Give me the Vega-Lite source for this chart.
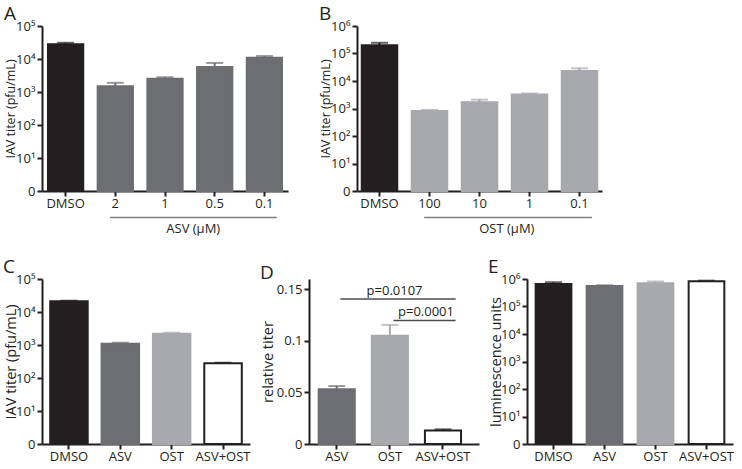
{
  "$schema": "https://vega.github.io/schema/vega-lite/v6.json",
  "padding": {"left": 3, "top": 5, "right": 0, "bottom": 0},
  "background": "white",
  "config": {
    "view": {"stroke": null},
    "font": "Open Sans",
    "axis": {"domainColor": "#231f20", "domainWidth": 2, "tickColor": "#231f20", "tickWidth": 2, "tickSize": 5, "labelColor": "#231f20", "labelFont": "Open Sans", "labelFontSize": 13, "titleFont": "Open Sans", "titleFontSize": 12.5, "titleFontWeight": "normal", "titleColor": "#231f20", "grid": false, "labelPadding": 2},
    "axisX": {"labelAngle": 0, "title": null, "labelPadding": 1},
    "title": {"anchor": "start", "frame": "bounds", "font": "Open Sans", "fontSize": 19, "fontWeight": "normal", "color": "#231f20", "offset": -4}
  },
  "datasets": {
    "A": [
      {"cond": "DMSO", "grp": "ctl", "val": 28000, "err": 31000},
      {"cond": "2", "grp": "asv", "val": 1500, "err": 1900},
      {"cond": "1", "grp": "asv", "val": 2500, "err": 2800},
      {"cond": "0.5", "grp": "asv", "val": 5700, "err": 7600},
      {"cond": "0.1", "grp": "asv", "val": 11000, "err": 12300}
    ],
    "B": [
      {"cond": "DMSO", "grp": "ctl", "val": 200000, "err": 245000},
      {"cond": "100", "grp": "ost", "val": 810, "err": 890},
      {"cond": "10", "grp": "ost", "val": 1700, "err": 2100},
      {"cond": "1", "grp": "ost", "val": 3200, "err": 3500},
      {"cond": "0.1", "grp": "ost", "val": 23000, "err": 29000}
    ],
    "C": [
      {"cond": "DMSO", "grp": "ctl", "val": 21000, "err": 22000},
      {"cond": "ASV", "grp": "asv", "val": 1100, "err": 1170},
      {"cond": "OST", "grp": "ost", "val": 2200, "err": 2350},
      {"cond": "ASV+OST", "grp": "combo", "val": 280, "err": 290}
    ],
    "D": [
      {"cond": "ASV", "grp": "asv", "val": 0.053, "err": 0.0562},
      {"cond": "OST", "grp": "ost", "val": 0.105, "err": 0.1155},
      {"cond": "ASV+OST", "grp": "combo", "val": 0.0132, "err": 0.0142}
    ],
    "Dsig": [
      {"from": "ASV", "to": "ASV+OST", "p": 0.1406, "label": "p=0.0107"},
      {"from": "OST", "to": "ASV+OST", "p": 0.1198, "label": "p=0.0001"}
    ],
    "E": [
      {"cond": "DMSO", "grp": "ctl", "val": 660000, "err": 760000},
      {"cond": "ASV", "grp": "asv", "val": 560000, "err": 590000},
      {"cond": "OST", "grp": "ost", "val": 700000, "err": 810000},
      {"cond": "ASV+OST", "grp": "combo", "val": 820000, "err": 870000}
    ]
  },
  "vconcat": [
    {
      "hconcat": [
        {
          "title": {"text": "A"},
          "width": 246, "height": 165,
          "resolve": {"scale": {"y": "independent"}},
          "layer": [
            {
              "data": {"name": "A"},
              "encoding": {"x": {"field": "cond", "type": "nominal", "scale": {"domain": ["DMSO", "2", "1", "0.5", "0.1"], "paddingInner": 0.29, "paddingOuter": 0.12}, "axis": {"title": null}}},
              "layer": [
                {"mark": {"type": "bar", "strokeWidth": 2},
                 "encoding": {
                   "y": {"field": "val", "type": "quantitative", "scale": {"type": "log", "domain": [1, 100000]}, "axis": {"title": "IAV titer (pfu/mL)", "values": [1, 10, 100, 1000, 10000, 100000], "labelExpr": "datum.value == 1 ? '0' : '10' + ['⁰','¹','²','³','⁴','⁵','⁶'][round(log(datum.value) / LN10)]", "minExtent": 24, "maxExtent": 24, "titlePadding": 1}},
                   "y2": {"datum": 1},
                   "fill": {"field": "grp", "type": "nominal", "scale": {"domain": ["ctl", "asv", "ost", "combo"], "range": ["#231f20", "#6d6e71", "#a7a9ac", "#ffffff"]}, "legend": null},
                   "stroke": {"field": "grp", "type": "nominal", "scale": {"domain": ["ctl", "asv", "ost", "combo"], "range": ["#231f20", "#6d6e71", "#a7a9ac", "#231f20"]}, "legend": null}
                 }},
                {"mark": {"type": "rule", "strokeWidth": 2},
                 "encoding": {"y": {"field": "val", "type": "quantitative"}, "y2": {"field": "err"},
                   "color": {"field": "grp", "type": "nominal", "scale": {"domain": ["ctl", "asv", "ost", "combo"], "range": ["#231f20", "#6d6e71", "#a7a9ac", "#231f20"]}, "legend": null}}},
                {"mark": {"type": "tick", "thickness": 2, "size": 17},
                 "encoding": {"y": {"field": "err", "type": "quantitative"},
                   "color": {"field": "grp", "type": "nominal", "scale": {"domain": ["ctl", "asv", "ost", "combo"], "range": ["#231f20", "#6d6e71", "#a7a9ac", "#231f20"]}, "legend": null}}}
              ]
            },
            {
              "data": {"values": [{"from": "2", "to": "0.1", "mid": "1", "label": "ASV (μM)"}]},
              "layer": [
                {"mark": {"type": "rule", "strokeWidth": 1.5, "color": "#7f7f7f"},
                 "encoding": {
                   "x": {"field": "from", "type": "nominal", "bandPosition": 0.35, "scale": {"domain": ["DMSO", "2", "1", "0.5", "0.1"]}, "axis": {"title": null}},
                   "x2": {"field": "to", "bandPosition": 0.85},
                   "y": {"datum": -16, "type": "quantitative", "scale": {"domain": [0, 100]}, "axis": null}
                 }},
                {"mark": {"type": "text", "fontSize": 13, "color": "#231f20", "baseline": "middle"},
                 "encoding": {
                   "x": {"field": "mid", "type": "nominal", "bandPosition": 1.3, "scale": {"domain": ["DMSO", "2", "1", "0.5", "0.1"]}, "axis": {"title": null}},
                   "y": {"datum": -23, "type": "quantitative"},
                   "text": {"field": "label"}
                 }}
              ]
            }
          ]
        },
        {
          "title": {"text": "B"},
          "width": 245, "height": 165,
          "resolve": {"scale": {"y": "independent"}},
          "layer": [
            {
              "data": {"name": "B"},
              "encoding": {"x": {"field": "cond", "type": "nominal", "scale": {"domain": ["DMSO", "100", "10", "1", "0.1"], "paddingInner": 0.29, "paddingOuter": 0.095}, "axis": {"title": null}}},
              "layer": [
                {"mark": {"type": "bar", "strokeWidth": 2},
                 "encoding": {
                   "y": {"field": "val", "type": "quantitative", "scale": {"type": "log", "domain": [1, 1000000]}, "axis": {"title": "IAV titer (pfu/mL)", "values": [1, 10, 100, 1000, 10000, 100000, 1000000], "labelExpr": "datum.value == 1 ? '0' : '10' + ['⁰','¹','²','³','⁴','⁵','⁶'][round(log(datum.value) / LN10)]", "minExtent": 24, "maxExtent": 24, "titlePadding": 1}},
                   "y2": {"datum": 1},
                   "fill": {"field": "grp", "type": "nominal", "scale": {"domain": ["ctl", "asv", "ost", "combo"], "range": ["#231f20", "#6d6e71", "#a7a9ac", "#ffffff"]}, "legend": null},
                   "stroke": {"field": "grp", "type": "nominal", "scale": {"domain": ["ctl", "asv", "ost", "combo"], "range": ["#231f20", "#6d6e71", "#a7a9ac", "#231f20"]}, "legend": null}
                 }},
                {"mark": {"type": "rule", "strokeWidth": 2},
                 "encoding": {"y": {"field": "val", "type": "quantitative"}, "y2": {"field": "err"},
                   "color": {"field": "grp", "type": "nominal", "scale": {"domain": ["ctl", "asv", "ost", "combo"], "range": ["#231f20", "#6d6e71", "#a7a9ac", "#231f20"]}, "legend": null}}},
                {"mark": {"type": "tick", "thickness": 2, "size": 17},
                 "encoding": {"y": {"field": "err", "type": "quantitative"},
                   "color": {"field": "grp", "type": "nominal", "scale": {"domain": ["ctl", "asv", "ost", "combo"], "range": ["#231f20", "#6d6e71", "#a7a9ac", "#231f20"]}, "legend": null}}}
              ]
            },
            {
              "data": {"values": [{"from": "100", "to": "0.1", "mid": "10", "label": "OST (μM)"}]},
              "layer": [
                {"mark": {"type": "rule", "strokeWidth": 1.5, "color": "#7f7f7f"},
                 "encoding": {
                   "x": {"field": "from", "type": "nominal", "bandPosition": 0.35, "scale": {"domain": ["DMSO", "100", "10", "1", "0.1"]}, "axis": {"title": null}},
                   "x2": {"field": "to", "bandPosition": 0.85},
                   "y": {"datum": -16, "type": "quantitative", "scale": {"domain": [0, 100]}, "axis": null}
                 }},
                {"mark": {"type": "text", "fontSize": 13, "color": "#231f20", "baseline": "middle"},
                 "encoding": {
                   "x": {"field": "mid", "type": "nominal", "bandPosition": 1.27, "scale": {"domain": ["DMSO", "100", "10", "1", "0.1"]}, "axis": {"title": null}},
                   "y": {"datum": -23, "type": "quantitative"},
                   "text": {"field": "label"}
                 }}
              ]
            }
          ]
        }
      ],
      "spacing": 31
    },
    {
      "hconcat": [
        {
          "title": {"text": "C"},
          "width": 208, "height": 165,
          "data": {"name": "C"},
          "encoding": {"x": {"field": "cond", "type": "nominal", "scale": {"domain": ["DMSO", "ASV", "OST", "ASV+OST"], "paddingInner": 0.27, "paddingOuter": 0.16}, "axis": {"title": null}}},
          "layer": [
            {"mark": {"type": "bar", "strokeWidth": 2},
             "encoding": {
               "y": {"field": "val", "type": "quantitative", "scale": {"type": "log", "domain": [1, 100000]}, "axis": {"title": "IAV titer (pfu/mL)", "titleFontSize": 14.5, "values": [1, 10, 100, 1000, 10000, 100000], "labelExpr": "datum.value == 1 ? '0' : '10' + ['⁰','¹','²','³','⁴','⁵','⁶'][round(log(datum.value) / LN10)]", "minExtent": 24, "maxExtent": 24, "titlePadding": 0}},
               "y2": {"datum": 1},
               "fill": {"field": "grp", "type": "nominal", "scale": {"domain": ["ctl", "asv", "ost", "combo"], "range": ["#231f20", "#6d6e71", "#a7a9ac", "#ffffff"]}, "legend": null},
               "stroke": {"field": "grp", "type": "nominal", "scale": {"domain": ["ctl", "asv", "ost", "combo"], "range": ["#231f20", "#6d6e71", "#a7a9ac", "#231f20"]}, "legend": null}
             }},
            {"mark": {"type": "rule", "strokeWidth": 2},
             "encoding": {"y": {"field": "val", "type": "quantitative"}, "y2": {"field": "err"},
               "color": {"field": "grp", "type": "nominal", "scale": {"domain": ["ctl", "asv", "ost", "combo"], "range": ["#231f20", "#6d6e71", "#a7a9ac", "#231f20"]}, "legend": null}}},
            {"mark": {"type": "tick", "thickness": 2, "size": 17},
             "encoding": {"y": {"field": "err", "type": "quantitative"},
               "color": {"field": "grp", "type": "nominal", "scale": {"domain": ["ctl", "asv", "ost", "combo"], "range": ["#231f20", "#6d6e71", "#a7a9ac", "#231f20"]}, "legend": null}}}
          ]
        },
        {
          "title": {"text": "D"},
          "width": 170, "height": 165,
          "layer": [
            {
              "data": {"name": "D"},
              "encoding": {"x": {"field": "cond", "type": "nominal", "scale": {"domain": ["ASV", "OST", "ASV+OST"], "paddingInner": 0.32, "paddingOuter": 0.26, "align": 0.35}, "axis": {"title": null}}},
              "layer": [
                {"mark": {"type": "bar", "strokeWidth": 2},
                 "encoding": {
                   "y": {"field": "val", "type": "quantitative", "scale": {"domain": [0, 0.15]}, "axis": {"title": "relative titer", "titleFontSize": 14.5, "values": [0, 0.05, 0.1, 0.15], "format": "~g", "minExtent": 34, "maxExtent": 34, "titlePadding": 0}},
                   "fill": {"field": "grp", "type": "nominal", "scale": {"domain": ["ctl", "asv", "ost", "combo"], "range": ["#231f20", "#6d6e71", "#a7a9ac", "#ffffff"]}, "legend": null},
                   "stroke": {"field": "grp", "type": "nominal", "scale": {"domain": ["ctl", "asv", "ost", "combo"], "range": ["#231f20", "#6d6e71", "#a7a9ac", "#231f20"]}, "legend": null}
                 }},
                {"mark": {"type": "rule", "strokeWidth": 2},
                 "encoding": {"y": {"field": "val", "type": "quantitative"}, "y2": {"field": "err"},
                   "color": {"field": "grp", "type": "nominal", "scale": {"domain": ["ctl", "asv", "ost", "combo"], "range": ["#231f20", "#6d6e71", "#a7a9ac", "#231f20"]}, "legend": null}}},
                {"mark": {"type": "tick", "thickness": 2, "size": 17},
                 "encoding": {"y": {"field": "err", "type": "quantitative"},
                   "color": {"field": "grp", "type": "nominal", "scale": {"domain": ["ctl", "asv", "ost", "combo"], "range": ["#231f20", "#6d6e71", "#a7a9ac", "#231f20"]}, "legend": null}}}
              ]
            },
            {
              "data": {"name": "Dsig"},
              "layer": [
                {"mark": {"type": "rule", "strokeWidth": 1.5, "color": "#4d4d4f"},
                 "encoding": {
                   "x": {"field": "from", "type": "nominal", "bandPosition": 0.6, "scale": {"domain": ["ASV", "OST", "ASV+OST"]}, "axis": {"title": null}},
                   "x2": {"field": "to", "bandPosition": 0.85},
                   "y": {"field": "p", "type": "quantitative"}
                 }},
                {"transform": [{"filter": "datum.label == 'p=0.0107'"}],
                 "mark": {"type": "text", "fontSize": 13, "color": "#231f20", "baseline": "alphabetic", "dy": -4},
                 "encoding": {
                   "x": {"datum": "OST", "bandPosition": 0.63},
                   "y": {"field": "p", "type": "quantitative"},
                   "text": {"field": "label"}
                 }},
                {"transform": [{"filter": "datum.label == 'p=0.0001'"}],
                 "mark": {"type": "text", "fontSize": 13, "color": "#231f20", "baseline": "alphabetic", "dy": -4},
                 "encoding": {
                   "x": {"datum": "ASV+OST", "bandPosition": 0.03},
                   "y": {"field": "p", "type": "quantitative"},
                   "text": {"field": "label"}
                 }}
              ]
            }
          ]
        },
        {
          "title": {"text": "E"},
          "width": 206, "height": 165,
          "data": {"name": "E"},
          "encoding": {"x": {"field": "cond", "type": "nominal", "scale": {"domain": ["DMSO", "ASV", "OST", "ASV+OST"], "paddingInner": 0.3, "paddingOuter": 0.17}, "axis": {"title": null}}},
          "layer": [
            {"mark": {"type": "bar", "strokeWidth": 2},
             "encoding": {
               "y": {"field": "val", "type": "quantitative", "scale": {"type": "log", "domain": [1, 1000000]}, "axis": {"title": "luminescence units", "titleFontSize": 14.5, "values": [1, 10, 100, 1000, 10000, 100000, 1000000], "labelExpr": "datum.value == 1 ? '0' : '10' + ['⁰','¹','²','³','⁴','⁵','⁶'][round(log(datum.value) / LN10)]", "minExtent": 24, "maxExtent": 24, "titlePadding": 0}},
               "y2": {"datum": 1},
               "fill": {"field": "grp", "type": "nominal", "scale": {"domain": ["ctl", "asv", "ost", "combo"], "range": ["#231f20", "#6d6e71", "#a7a9ac", "#ffffff"]}, "legend": null},
               "stroke": {"field": "grp", "type": "nominal", "scale": {"domain": ["ctl", "asv", "ost", "combo"], "range": ["#231f20", "#6d6e71", "#a7a9ac", "#231f20"]}, "legend": null}
             }},
            {"mark": {"type": "rule", "strokeWidth": 2},
             "encoding": {"y": {"field": "val", "type": "quantitative"}, "y2": {"field": "err"},
               "color": {"field": "grp", "type": "nominal", "scale": {"domain": ["ctl", "asv", "ost", "combo"], "range": ["#231f20", "#6d6e71", "#a7a9ac", "#231f20"]}, "legend": null}}},
            {"mark": {"type": "tick", "thickness": 2, "size": 17},
             "encoding": {"y": {"field": "err", "type": "quantitative"},
               "color": {"field": "grp", "type": "nominal", "scale": {"domain": ["ctl", "asv", "ost", "combo"], "range": ["#231f20", "#6d6e71", "#a7a9ac", "#231f20"]}, "legend": null}}}
          ]
        }
      ],
      "spacing": 9
    }
  ],
  "spacing": 22
}
